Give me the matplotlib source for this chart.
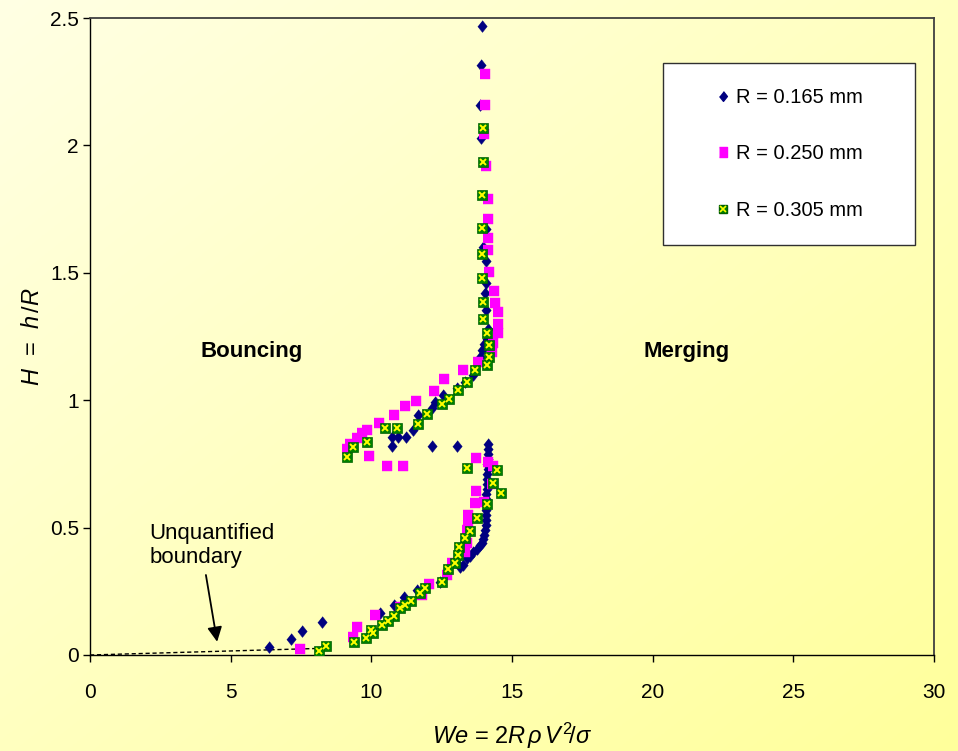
import numpy as np
import matplotlib
matplotlib.use("Agg")
import matplotlib.pyplot as plt
from matplotlib.patches import Rectangle
from matplotlib.legend_handler import HandlerTuple
from matplotlib.lines import Line2D

plt.rcParams['font.family'] = ['Liberation Sans', 'DejaVu Sans']
plt.rcParams['mathtext.fontset'] = 'custom'
plt.rcParams['mathtext.rm'] = 'Liberation Sans'
plt.rcParams['mathtext.it'] = 'Liberation Sans:italic'
plt.rcParams['mathtext.bf'] = 'Liberation Sans:bold'

# ---- data: Weber number vs. dimensionless gap H = h/R ----
labels = ["R = 0.165 mm", "R = 0.250 mm", "R = 0.305 mm"]

we_165 = [13.92, 13.90, 13.86, 13.90, 14.08, 13.98, 14.08, 14.08, 14.04, 14.08,
          14.16, 14.12, 14.00, 13.92, 13.85, 13.63, 13.33, 13.03, 12.56, 12.26,
          12.14, 11.67, 11.47, 11.23, 10.96, 10.72, 10.72, 12.14, 13.06,
          14.15, 14.14, 14.13, 14.14, 14.12, 14.13, 14.11, 14.12, 14.10, 14.11,
          14.09, 14.10, 14.08, 14.09, 14.08, 14.07, 14.06, 14.05, 14.02, 13.98,
          13.95, 13.75, 13.86, 13.63, 13.50, 13.39, 13.27, 13.15, 12.44, 11.61,
          11.16, 10.81, 10.31, 8.24, 7.55, 7.13, 6.37]
h_165 = [2.47, 2.315, 2.16, 2.03, 1.67, 1.60, 1.545, 1.46, 1.42, 1.354,
         1.28, 1.24, 1.22, 1.197, 1.17, 1.099, 1.073, 1.046, 1.02, 0.994,
         0.968, 0.942, 0.883, 0.857, 0.857, 0.857, 0.82, 0.82, 0.82,
         0.83, 0.81, 0.79, 0.77, 0.75, 0.73, 0.71, 0.69, 0.67, 0.65,
         0.63, 0.61, 0.59, 0.57, 0.55, 0.53, 0.51, 0.49, 0.47, 0.455,
         0.44, 0.415, 0.43, 0.405, 0.39, 0.38, 0.353, 0.347, 0.288, 0.255,
         0.226, 0.196, 0.164, 0.128, 0.095, 0.063, 0.033]

we_250 = [14.04, 14.05, 14.00, 14.07, 14.14, 14.14, 14.14, 14.16, 14.20, 14.37,
          14.40, 14.52, 14.52, 14.52, 14.33, 14.28, 13.80, 13.27, 12.60, 12.21,
          11.59, 11.20, 10.81, 10.26, 9.84, 9.68, 9.48, 9.24, 9.13, 9.90,
          10.55, 11.12, 13.72, 14.16, 14.34, 14.28, 13.72, 14.00, 13.69, 13.45,
          13.45, 13.39, 13.39, 13.33, 12.86, 12.68, 12.05, 11.79, 11.02, 10.13,
          9.48, 9.36, 7.47]
h_250 = [2.28, 2.16, 2.045, 1.92, 1.79, 1.71, 1.635, 1.59, 1.505, 1.43,
         1.383, 1.347, 1.30, 1.263, 1.223, 1.19, 1.151, 1.118, 1.083, 1.036,
         0.998, 0.977, 0.942, 0.912, 0.883, 0.87, 0.85, 0.83, 0.81, 0.78,
         0.742, 0.742, 0.775, 0.759, 0.74, 0.673, 0.645, 0.602, 0.595, 0.55,
         0.517, 0.49, 0.438, 0.405, 0.36, 0.314, 0.279, 0.235, 0.19, 0.157,
         0.111, 0.069, 0.022]

we_305 = [13.96, 13.96, 13.92, 13.92, 13.92, 13.92, 13.96, 13.98, 14.12, 14.18,
          14.18, 14.12, 13.69, 13.39, 13.07, 12.76, 12.50, 11.97, 11.67, 10.90,
          10.49, 9.86, 9.36, 9.13, 13.39, 14.46, 14.31, 14.60, 14.12, 13.74,
          13.49, 13.33, 13.13, 13.09, 12.98, 12.74, 12.50, 11.91, 11.73, 11.40,
          11.20, 11.02, 10.81, 10.60, 10.37, 10.05, 9.98, 9.81, 9.39, 8.39,
          8.15]
h_305 = [2.07, 1.936, 1.805, 1.675, 1.575, 1.48, 1.387, 1.32, 1.263, 1.217,
         1.17, 1.14, 1.118, 1.073, 1.04, 1.003, 0.985, 0.944, 0.907, 0.89,
         0.89, 0.835, 0.817, 0.776, 0.732, 0.728, 0.677, 0.637, 0.593, 0.536,
         0.488, 0.458, 0.425, 0.392, 0.36, 0.336, 0.288, 0.261, 0.242, 0.213,
         0.196, 0.183, 0.153, 0.133, 0.118, 0.085, 0.098, 0.068, 0.052, 0.035,
         0.017]

# boundary extrapolated to the origin
bound_we = [0.0, 8.5]
bound_h = [0.0, 0.027]

xticks = [0, 5, 10, 15, 20, 25, 30]
yticks = [0, 0.5, 1, 1.5, 2, 2.5]
ytick_labels = ["0", "0.5", "1", "1.5", "2", "2.5"]

# ---- figure with a pale-yellow diagonal gradient ----
fig = plt.figure(figsize=(9.58, 7.51), dpi=100)
bg = fig.add_axes([0, 0, 1, 1], zorder=-10)
gx, gy = np.meshgrid(np.linspace(0, 1, 300), np.linspace(0, 1, 300))
t = (gx + gy) / 2.0
img = np.zeros((300, 300, 3))
img[..., 0] = 1.0
img[..., 1] = 1.0
img[..., 2] = (228 * (1 - t) + 155 * t) / 255.0
bg.imshow(img, aspect='auto', extent=[0, 1, 0, 1], origin='upper')
bg.axis('off')

ax = fig.add_axes([90 / 958, 96 / 751, 844 / 958, 637 / 751])
ax.set_facecolor('none')

diamond = [(0, 1), (0.8, 0), (0, -1), (-0.8, 0)]
rect = [(-0.87, -1), (0.87, -1), (0.87, 1), (-0.87, 1)]

ax.plot(bound_we, bound_h, ls=(0, (3, 2)), color='black', lw=1.0, zorder=2)

ax.plot(we_165, h_165, ls='none', marker=diamond, ms=8.5, mfc='#000080',
        mec='#000080', mew=0.3, zorder=3)
ax.plot(we_250, h_250, ls='none', marker=rect, ms=7.8, mfc='#FF00FF',
        mec='#FF00FF', mew=0.3, zorder=4)
ax.plot(we_305, h_305, ls='none', marker='s', ms=6.6, mfc='#008000',
        mec='#006000', mew=0.5, zorder=5)
ax.plot(we_305, h_305, ls='none', marker='x', ms=5.0, mec='#FFFF00',
        mew=1.4, zorder=6)

ax.set_xlim(0, 30)
ax.set_ylim(0, 2.5)
ax.set_xticks(xticks)
ax.set_yticks(yticks)
ax.set_yticklabels(ytick_labels)
ax.tick_params(axis='x', direction='out', length=5, width=1, pad=15,
               labelsize=15)
ax.tick_params(axis='y', direction='out', length=5, width=1, pad=3,
               labelsize=15)

for s in ['left', 'bottom']:
    ax.spines[s].set_color('black')
    ax.spines[s].set_linewidth(1.0)
for s in ['top', 'right']:
    ax.spines[s].set_color('#404040')
    ax.spines[s].set_linewidth(1.3)

ax.set_xlabel(r'$\mathit{We}$ = 2$\mathit{R\,\rho\,V}^{2}\!/\mathit{\sigma}$',
              fontsize=17, labelpad=14)
ax.set_ylabel(r'$\mathit{H}$  =  $\mathit{h\,/R}$', fontsize=17, labelpad=4)

# region labels
ax.text(5.76, 1.19, "Bouncing", fontsize=16, fontweight='bold',
        ha='center', va='center')
ax.text(21.2, 1.19, "Merging", fontsize=16, fontweight='bold',
        ha='center', va='center')

ax.text(2.1, 0.43, "Unquantified\nboundary", fontsize=16, ha='left',
        va='center', linespacing=1.2)
ax.annotate('', xy=(4.52, 0.052), xytext=(4.12, 0.314),
            arrowprops=dict(arrowstyle='-|>', color='black', lw=1.3,
                            mutation_scale=22, shrinkA=0, shrinkB=0))

# legend panel
box = Rectangle((0.679, 0.644), 0.298, 0.285, transform=ax.transAxes,
                facecolor='white', edgecolor='#303030', lw=1.0, zorder=7)
ax.add_patch(box)
h1 = Line2D([], [], ls='none', marker=diamond, ms=7, mfc='#000080',
            mec='#000080')
h2 = Line2D([], [], ls='none', marker=rect, ms=6.5, mfc='#FF00FF',
            mec='#FF00FF')
h3a = Line2D([], [], ls='none', marker='s', ms=5.5, mfc='#008000',
             mec='#006000')
h3b = Line2D([], [], ls='none', marker='x', ms=4, mec='#FFFF00', mew=1.2)
leg = ax.legend([h1, h2, (h3a, h3b)], labels, loc='center',
                bbox_to_anchor=(0.679, 0.644, 0.298, 0.285),
                frameon=False, fontsize=14.5, labelspacing=1.85,
                handlelength=0.8, handletextpad=0.25,
                handler_map={tuple: HandlerTuple(ndivide=1)})
leg.set_zorder(8)

fig.savefig("out.png", dpi=100)
